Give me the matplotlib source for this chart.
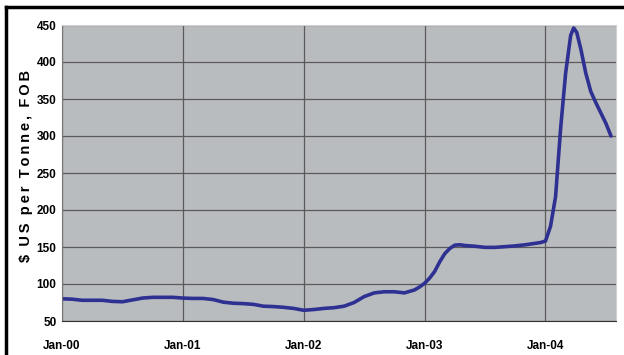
import numpy as np
import matplotlib.pyplot as plt
from matplotlib.lines import Line2D

# price, months counted from Jan-00
months = [0, 1, 2, 3, 4, 5, 6, 7, 8, 9, 10, 11,
          12, 13, 14, 15, 16, 17, 18, 19, 20, 21, 22, 23,
          24, 25, 26, 27, 28, 29, 30, 31, 32, 33, 34, 35,
          35.5, 36, 36.5, 37, 37.5, 38, 38.5, 39, 39.5, 40, 41, 42,
          43, 44, 45, 46, 47, 47.5, 48, 48.5, 49, 49.5, 50, 50.5,
          50.8, 51.1, 51.5, 52, 52.5, 53, 53.5, 54, 54.5]
price = [80, 79.5, 78, 78, 78, 76.5, 76, 78.5, 81, 82, 82, 82,
         81, 80.5, 80.5, 79, 75.5, 74, 73.5, 72.5, 70, 69.5, 68.5, 67,
         64.5, 65.5, 67, 68, 70, 75, 83, 88, 89.5, 89.5, 88, 92,
         96, 101, 108, 117, 130, 141, 148, 152.5, 153, 152, 151, 149.5,
         149.5, 150.5, 151.5, 153, 155, 156, 158, 178, 218, 310, 385, 436,
         446, 440, 418, 385, 360, 345, 331, 317, 300]
tick_pos = [0, 12, 24, 36, 48]
tick_lab = ['Jan-00', 'Jan-01', 'Jan-02', 'Jan-03', 'Jan-04']
yticks = [50, 100, 150, 200, 250, 300, 350, 400, 450]

fam = ['Liberation Sans Narrow', 'Liberation Sans', 'DejaVu Sans']

fig = plt.figure(figsize=(6.24, 3.55), dpi=100)
ax = fig.add_axes([62/624, 1-321/355, 554/624, 296/355])
ax.set_facecolor('#b9bcbf')
ax.plot(months, price, color='#2e3192', lw=2.6, solid_capstyle='round',
        solid_joinstyle='round')
ax.set_xlim(0, 55)
ax.set_ylim(50, 450)
ax.set_xticks(tick_pos)
ax.set_xticklabels(tick_lab)
ax.set_yticks(yticks)
ax.grid(True, color='#5a5a5a', lw=0.9)
ax.tick_params(length=0, pad=4)
ax.tick_params(axis='x', pad=14)
for lab in ax.get_xticklabels() + ax.get_yticklabels():
    lab.set_family(fam)
    lab.set_fontweight('bold')
    lab.set_fontsize(8.5)
for s in ['top', 'right']:
    ax.spines[s].set_color('#d0d2d4')
ax.spines['bottom'].set_color('#333333')
ax.spines['left'].set_color('#777777')

t = '\u2009'
ylab = ('$  U' + t + 'S  p' + t + 'e' + t + 'r  T' + t + 'o' + t + 'n' + t
        + 'n' + t + 'e' + t + ',  F' + t + 'O' + t + 'B')
fig.text(26/624, 1-166/355, ylab, rotation=90,
         ha='center', va='center', fontsize=10.5, fontweight='bold',
         family=['Liberation Sans', 'DejaVu Sans'])

# outer frame
fig.add_artist(Line2D([6/624, 6/624], [0, 1-7/355], color='black', lw=2.5,
                      transform=fig.transFigure))
fig.add_artist(Line2D([6/624, 1], [1-7/355, 1-7/355], color='black', lw=2.5,
                      transform=fig.transFigure))

fig.savefig('out.png', dpi=100)
